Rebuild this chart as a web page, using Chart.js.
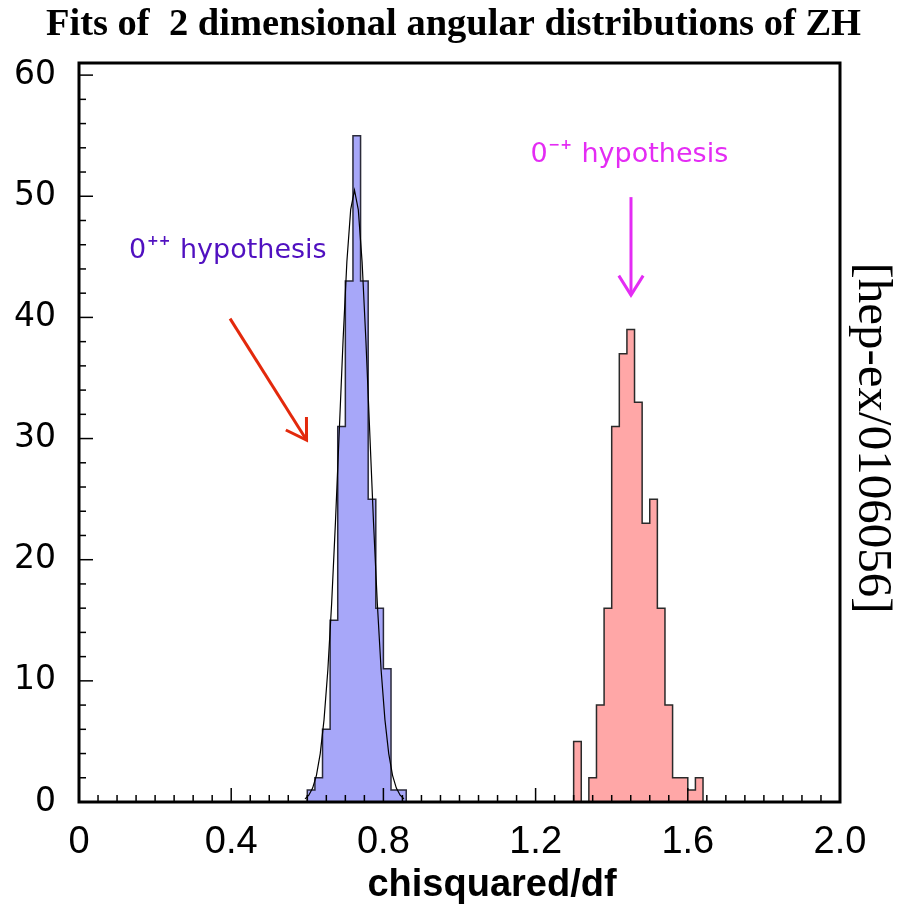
<!DOCTYPE html>
<html>
<head>
<meta charset="utf-8">
<script src="https://cdn.jsdelivr.net/npm/chart.js@4.4.1/dist/chart.umd.min.js"></script>
<style>
html,body{margin:0;padding:0;background:#fff}
#wrap{width:907px;height:908px}
</style>
</head>
<body>
<div id="wrap"><canvas id="myChart" width="907" height="908"></canvas></div>
<script>
// histogram bins: lower edges (width 0.02) and counts, 250 entries each
var blueEdges = [0.60,0.62,0.64,0.66,0.68,0.70,0.72,0.74,0.76,0.78,0.80,0.82,0.84]
var blueCounts = [1,2,6,15,31,43,55,43,25,16,11,1,1]
var redEdges = [1.30,1.32,1.34,1.36,1.38,1.40,1.42,1.44,1.46,1.48,1.50,1.52,1.54,1.56,1.58,1.60,1.62]
var redCounts = [5,0,2,8,16,31,37,39,33,23,25,16,8,2,2,1,2]
var binWidth = 0.02

// fitted curve over the 0++ histogram
var fitX = [0.594,0.604,0.614,0.624,0.634,0.644,0.654,0.664,0.674,0.684,0.694,0.704,0.714,0.724,0.734,0.744,0.754,0.764,0.774,0.784,0.794,0.804,0.814,0.824,0.834,0.844,0.854]
var fitY = [0.26,0.56,1.15,2.2,4.0,6.8,10.9,16.4,23.1,30.6,38.1,44.6,48.9,50.5,48.9,44.6,38.1,30.6,23.1,16.4,10.9,6.8,4.0,2.2,1.15,0.56,0.26]

// axis labels
var xLabelValues = [0,0.4,0.8,1.2,1.6,2.0]
var xLabelText = ['0','0.4','0.8','1.2','1.6','2.0']
var yLabelValues = [0,10,20,30,40,50,60]

function stepPoints(edges, counts){
    var pts = [{x: edges[0], y: 0}]
    for (var i = 0; i < edges.length; i++) pts.push({x: edges[i], y: counts[i]})
    pts.push({x: edges[edges.length-1] + binWidth, y: 0})
    return pts
}

function labelIndex(list, v){
    for (var i = 0; i < list.length; i++){
        if (Math.abs(list[i] - v) < 1e-6) return i
    }
    return -1
}

// text and arrows placed in data units
var notes = [
    {x: 0.1314, y: 44.87, color: '#5010c0', sup: '++'},
    {x: 1.1866, y: 52.84, color: '#e42cf4', sup: '\u2212+'}
]
var arrows = [
    {from: [0.397, 39.9], to: [0.598, 29.88], color: '#e3290c'},
    {from: [1.4507, 49.93], to: [1.4507, 41.84], color: '#e42cf4'}
]

var frameTicks = {
    id: 'frameTicks',
    afterDatasetsDraw: function(chart){
        var ctx = chart.ctx, a = chart.chartArea
        var xs = chart.scales.x, ys = chart.scales.y
        ctx.save()
        ctx.strokeStyle = '#000'
        ctx.lineWidth = 1.5
        xs.ticks.forEach(function(t){
            var px = xs.getPixelForValue(t.value)
            var len = labelIndex(xLabelValues, t.value) >= 0 ? 14 : 7
            ctx.beginPath(); ctx.moveTo(px, a.bottom); ctx.lineTo(px, a.bottom - len); ctx.stroke()
        })
        ys.ticks.forEach(function(t){
            var py = ys.getPixelForValue(t.value)
            var len = labelIndex(yLabelValues, t.value) >= 0 ? 14 : 7
            ctx.beginPath(); ctx.moveTo(a.left, py); ctx.lineTo(a.left + len, py); ctx.stroke()
        })
        ctx.lineWidth = 3
        ctx.strokeRect(a.left, a.top, a.right - a.left, a.bottom - a.top)
        ctx.restore()
    }
}

var annotations = {
    id: 'annotations',
    afterDraw: function(chart){
        var ctx = chart.ctx, a = chart.chartArea
        var xs = chart.scales.x, ys = chart.scales.y
        ctx.save()
        ctx.textAlign = 'left'
        ctx.textBaseline = 'alphabetic'
        notes.forEach(function(n){
            var px = xs.getPixelForValue(n.x), py = ys.getPixelForValue(n.y)
            ctx.fillStyle = n.color
            ctx.font = '27px "DejaVu Sans"'
            ctx.fillText('0', px, py)
            ctx.fillText('hypothesis', px + 51, py)
            ctx.font = 'bold 14px "DejaVu Sans"'
            ctx.fillText(n.sup, px + 18, py - 13)
        })
        arrows.forEach(function(ar){
            var x1 = xs.getPixelForValue(ar.from[0]), y1 = ys.getPixelForValue(ar.from[1])
            var x2 = xs.getPixelForValue(ar.to[0]), y2 = ys.getPixelForValue(ar.to[1])
            var ang = Math.atan2(y1 - y2, x1 - x2)
            var w = 32 * Math.PI / 180, L = 23
            ctx.strokeStyle = ar.color
            ctx.lineWidth = 3
            ctx.lineCap = 'butt'
            ctx.beginPath(); ctx.moveTo(x1, y1); ctx.lineTo(x2, y2); ctx.stroke()
            ctx.beginPath()
            ctx.moveTo(x2 + L * Math.cos(ang - w), y2 + L * Math.sin(ang - w))
            ctx.lineTo(x2, y2)
            ctx.lineTo(x2 + L * Math.cos(ang + w), y2 + L * Math.sin(ang + w))
            ctx.stroke()
        })
        // axis title
        ctx.fillStyle = '#000'
        ctx.font = 'bold 38px "Liberation Sans"'
        ctx.textAlign = 'center'
        ctx.fillText('chisquared/df', 492, 896)
        // preprint tag on the right
        ctx.translate(872, 438)
        ctx.rotate(Math.PI / 2)
        ctx.font = '49px "Liberation Serif"'
        ctx.textBaseline = 'middle'
        ctx.fillText('[hep-ex/0106056]', 0, 0)
        ctx.restore()
    }
}

var myChart = document.getElementById('myChart').getContext('2d')

var chart = new Chart(myChart, {
    type: 'line',
    data: {
        datasets: [
            {
                label: 'fit',
                data: fitX.map(function(x, i){ return {x: x, y: fitY[i]} }),
                borderColor: '#000',
                borderWidth: 1.2,
                fill: false,
                pointRadius: 0,
                tension: 0,
                order: 0
            },
            {
                label: '0++',
                data: stepPoints(blueEdges, blueCounts),
                stepped: true,
                borderColor: '#2a2a3a',
                borderWidth: 1.5,
                backgroundColor: '#a7a7f9',
                fill: 'origin',
                pointRadius: 0,
                order: 1
            },
            {
                label: '0-+',
                data: stepPoints(redEdges, redCounts),
                stepped: true,
                borderColor: '#2a2a2a',
                borderWidth: 1.5,
                backgroundColor: '#ffa7a7',
                fill: 'origin',
                pointRadius: 0,
                order: 1
            }
        ]
    },
    options: {
        responsive: false,
        animation: false,
        layout: {padding: {left: 0, right: 0, top: 0, bottom: 0}},
        plugins: {
            legend: {display: false},
            tooltip: {enabled: false},
            title: {
                display: true,
                text: 'Fits of  2 dimensional angular distributions of ZH',
                color: '#000',
                font: {family: 'Liberation Serif', size: 38.5, weight: 'bold', lineHeight: 1.2},
                padding: {top: 2, bottom: 14.8}
            }
        },
        scales: {
            x: {
                type: 'linear',
                min: 0,
                max: 2,
                grid: {display: false},
                border: {display: false},
                ticks: {
                    stepSize: 0.05,
                    autoSkip: false,
                    maxRotation: 0,
                    includeBounds: false,
                    padding: 10,
                    color: '#000',
                    font: {family: 'Liberation Sans', size: 38},
                    callback: function(v){
                        var i = labelIndex(xLabelValues, v)
                        return i >= 0 ? xLabelText[i] : ''
                    }
                },
                afterFit: function(s){ s.height = 106 }
            },
            y: {
                type: 'linear',
                min: 0,
                max: 61,
                grid: {display: false},
                border: {display: false},
                ticks: {
                    stepSize: 2,
                    autoSkip: false,
                    includeBounds: false,
                    padding: 15,
                    color: '#000',
                    font: {family: 'DejaVu Sans', size: 33},
                    callback: function(v){
                        return labelIndex(yLabelValues, v) >= 0 ? String(v) : ''
                    }
                },
                afterFit: function(s){ s.width = 79 }
            },
            y2: {
                type: 'linear',
                position: 'right',
                display: true,
                grid: {display: false},
                border: {display: false},
                ticks: {display: false},
                afterFit: function(s){ s.width = 67 }
            }
        }
    },
    plugins: [frameTicks, annotations]
})
</script>
</body>
</html>
